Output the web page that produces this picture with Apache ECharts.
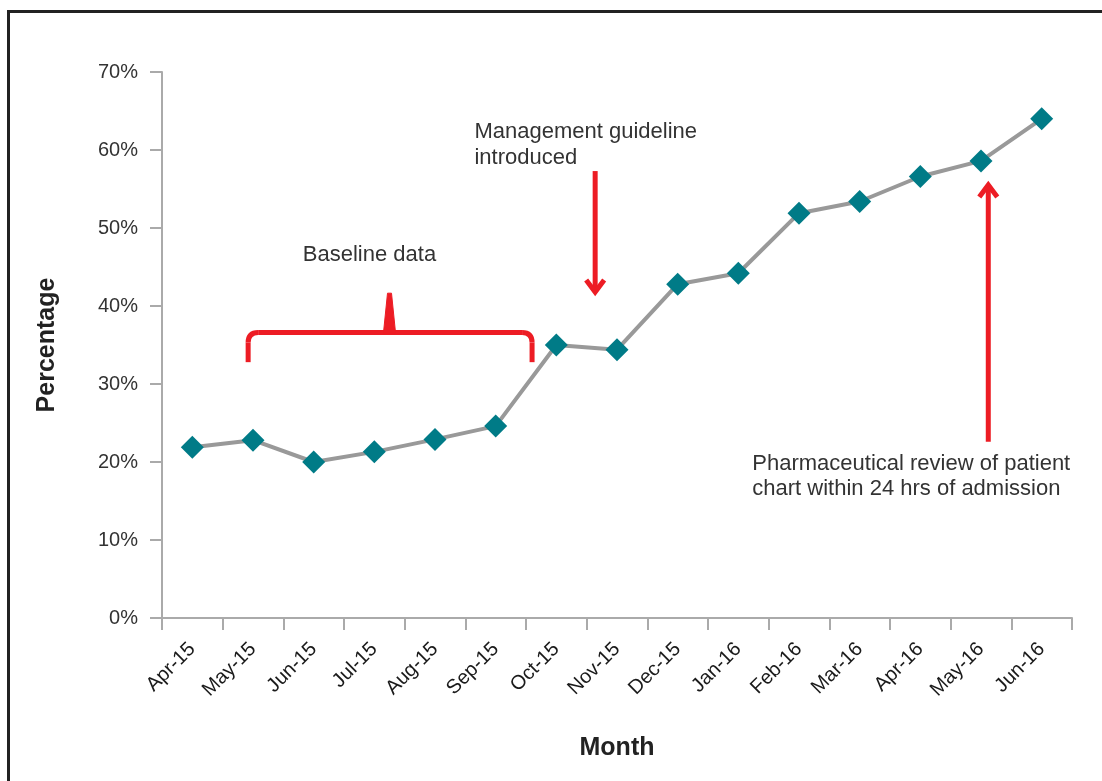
<!DOCTYPE html>
<html><head><meta charset="utf-8">
<script src="https://cdn.jsdelivr.net/npm/echarts@6/dist/echarts.min.js"></script>
<style>
html,body{margin:0;padding:0;background:#fff;}
#frame{position:absolute;left:7px;top:10px;width:1110px;height:790px;border-left:3px solid #222;border-top:3px solid #222;box-sizing:border-box;}
#c{position:absolute;left:0;top:0;width:1102px;height:781px;}
</style></head>
<body><div id="frame"></div><div id="c"></div>
<script>
const months = ['Apr-15','May-15','Jun-15','Jul-15','Aug-15','Sep-15','Oct-15','Nov-15','Dec-15','Jan-16','Feb-16','Mar-16','Apr-16','May-16','Jun-16'];
const percentage = [21.9, 22.8, 20.0, 21.3, 22.9, 24.6, 35.0, 34.4, 42.8, 44.2, 51.9, 53.4, 56.6, 58.6, 64.0];
const yTicks = [0, 10, 20, 30, 40, 50, 60, 70];
const annotationTexts = {
  guideline: 'Management guideline\nintroduced',
  baseline: 'Baseline data',
  review: 'Pharmaceutical review of patient\nchart within 24 hrs of admission'
};

const FONT = '"Liberation Sans", Arial, sans-serif';
const RED = '#ED1C24';
const chart = echarts.init(document.getElementById('c'), null, {renderer:'canvas'});
chart.setOption({
  animation:false,
  grid:{left:162, right:30, top:72, bottom:163, containLabel:false},
  xAxis:{
    type:'category', data:months, boundaryGap:true,
    name:'Month', nameLocation:'middle', nameGap:118,
    nameTextStyle:{fontFamily:FONT, fontSize:25, fontWeight:'bold', color:'#222'},
    axisLine:{lineStyle:{color:'#aaa', width:2}},
    axisTick:{show:true, length:12, lineStyle:{color:'#aaa', width:2}, alignWithLabel:false},
    axisLabel:{rotate:45, margin:28, fontFamily:FONT, fontSize:20, color:'#1a1a1a', interval:0}
  },
  yAxis:{
    type:'value', min:0, max:70, interval:10,
    name:'Percentage', nameLocation:'middle', nameGap:102,
    nameTextStyle:{fontFamily:FONT, fontSize:25, fontWeight:'bold', color:'#222'},
    axisLine:{show:true, lineStyle:{color:'#aaa', width:2}},
    axisTick:{show:true, length:12, lineStyle:{color:'#aaa', width:2}},
    splitLine:{show:false},
    axisLabel:{margin:24, fontFamily:FONT, fontSize:20, color:'#333',
      formatter:function(v){ return yTicks.indexOf(v) >= 0 ? v + '%' : ''; }}
  },
  series:[{
    type:'line', data:percentage,
    lineStyle:{color:'#999', width:4},
    symbol:'diamond', symbolSize:23,
    itemStyle:{color:'#007B87'},
    z:3
  }]
});

function P(i, v){
  const a = chart.convertToPixel({xAxisIndex:0, yAxisIndex:0}, [0, v]);
  const b = chart.convertToPixel({xAxisIndex:0, yAxisIndex:0}, [1, v]);
  return [a[0] + i*(b[0]-a[0]), a[1]];
}
const lw = 5;
const stroke = {stroke:RED, lineWidth:lw, fill:null, lineCap:'butt', lineJoin:'miter'};
const a1t = P(6.64, 57.3), a1b = P(6.64, 41.4);
const a2t = P(13.12, 55.9), a2b = P(13.12, 22.6);
const bl = P(0.92, 32.8), btl = P(0.92, 36.6), br = P(5.60, 32.8), btr = P(5.60, 36.6);
const peak = P(3.25, 41.9);
const r = 10;
const spike = [[peak[0]-6, btl[1]], [peak[0]-2, peak[1]+2], [peak[0]+2, peak[1]+2], [peak[0]+6, btl[1]]];
const t1 = P(4.65, 64.0), t2 = P(2.92, 46.6), t3 = P(9.23, 21.3);
const TF = '22px ' + FONT;
chart.setOption({
  graphic:[
    {type:'line', shape:{x1:a1t[0], y1:a1t[1], x2:a1b[0], y2:a1b[1]-3}, style:stroke},
    {type:'polyline', shape:{points:[[a1b[0]-9, a1b[1]-15],[a1b[0], a1b[1]-3],[a1b[0]+9, a1b[1]-15]]}, style:stroke},
    {type:'line', shape:{x1:a2b[0], y1:a2b[1], x2:a2t[0], y2:a2t[1]+3}, style:stroke},
    {type:'polyline', shape:{points:[[a2t[0]-9, a2t[1]+15],[a2t[0], a2t[1]+3],[a2t[0]+9, a2t[1]+15]]}, style:stroke},
    {type:'line', shape:{x1:bl[0], y1:bl[1], x2:btl[0], y2:btl[1]+r}, style:stroke},
    {type:'bezierCurve', shape:{x1:btl[0], y1:btl[1]+r, cpx1:btl[0], cpy1:btl[1], x2:btl[0]+r, y2:btl[1]}, style:stroke},
    {type:'line', shape:{x1:btl[0]+r, y1:btl[1], x2:btr[0]-r, y2:btr[1]}, style:stroke},
    {type:'bezierCurve', shape:{x1:btr[0]-r, y1:btr[1], cpx1:btr[0], cpy1:btr[1], x2:btr[0], y2:btr[1]+r}, style:stroke},
    {type:'line', shape:{x1:br[0], y1:br[1], x2:btr[0], y2:btr[1]+r}, style:stroke},
    {type:'polygon', shape:{points:spike}, style:{fill:RED, stroke:RED, lineWidth:1}},
    {type:'text', x:t1[0], y:t1[1], style:{text:annotationTexts.guideline, font:TF, fill:'#333', lineHeight:26, align:'left', verticalAlign:'top'}},
    {type:'text', x:t2[0], y:t2[1], style:{text:annotationTexts.baseline, font:TF, fill:'#333', align:'center', verticalAlign:'middle'}},
    {type:'text', x:t3[0], y:t3[1], style:{text:annotationTexts.review, font:TF, fill:'#333', lineHeight:25, align:'left', verticalAlign:'top'}}
  ]
});
</script></body></html>
